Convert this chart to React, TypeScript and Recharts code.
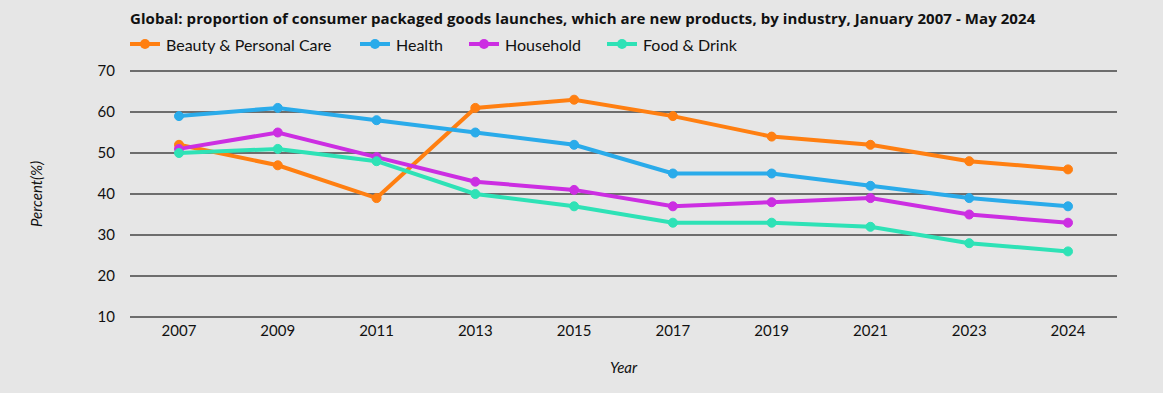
import React from "react";
import { LineChart, Line, XAxis, YAxis, CartesianGrid } from "recharts";

const years = ["2007", "2009", "2011", "2013", "2015", "2017", "2019", "2021", "2023", "2024"];
const beauty = [52, 47, 39, 61, 63, 59, 54, 52, 48, 46];
const health = [59, 61, 58, 55, 52, 45, 45, 42, 39, 37];
const household = [51, 55, 49, 43, 41, 37, 38, 39, 35, 33];
const food = [50, 51, 48, 40, 37, 33, 33, 32, 28, 26];
const yTicks = [10, 20, 30, 40, 50, 60, 70];

const seriesDefs = [
  { key: "beauty", name: "Beauty & Personal Care", color: "#ff7f11", values: beauty },
  { key: "health", name: "Health", color: "#2aabea", values: health },
  { key: "household", name: "Household", color: "#cc2ee2", values: household },
  { key: "food", name: "Food & Drink", color: "#2ee2b6", values: food },
];

const data = years.map((y, i) => {
  const row: any = { year: y };
  seriesDefs.forEach((s) => (row[s.key] = s.values[i]));
  return row;
});

const FONT = "Lato, 'Noto Sans', sans-serif";
const HFONT = "'Open Sans', Lato, sans-serif";
const legendX = [130, 360, 469, 607];

export default function App() {
  return (
    <div
      style={{
        position: "absolute",
        left: 0,
        top: 0,
        width: 1163,
        height: 393,
        background: "#e6e6e6",
        fontFamily: FONT,
        color: "#111",
      }}
    >
      <div
        style={{
          position: "absolute",
          left: 130,
          top: 8,
          fontSize: 15,
          letterSpacing: 0.07,
          fontWeight: 700,
          fontFamily: HFONT,
          whiteSpace: "nowrap",
        }}
      >
        Global: proportion of consumer packaged goods launches, which are new products, by industry, January 2007 - May 2024
      </div>
      {seriesDefs.map((s, i) => (
        <div
          key={s.key}
          style={{
            position: "absolute",
            left: legendX[i],
            top: 34,
            height: 20,
            display: "flex",
            alignItems: "center",
            fontSize: 16,
            whiteSpace: "nowrap",
          }}
        >
          <svg width={30} height={12} style={{ marginRight: 6 }}>
            <line x1={0} y1={6} x2={30} y2={6} stroke={s.color} strokeWidth={4} />
            <circle cx={15} cy={6} r={5} fill={s.color} />
          </svg>
          {s.name}
        </div>
      ))}
      <LineChart
        width={1163}
        height={393}
        data={data}
        margin={{ top: 71, right: 46, left: 70, bottom: 46 }}
        style={{ position: "absolute", left: 0, top: 0 }}
      >
        <CartesianGrid vertical={false} stroke="#444" strokeWidth={1.3} />
        <XAxis
          dataKey="year"
          axisLine={false}
          tickLine={false}
          height={30}
          tickMargin={2}
          padding={{ left: 49, right: 49 }}
          tick={{ fill: "#111", fontSize: 15, fontFamily: FONT }}
          label={{
            value: "Year",
            position: "insideBottom",
            offset: -26,
            fill: "#111",
            fontSize: 15,
            fontStyle: "italic",
            fontFamily: FONT,
          }}
        />
        <YAxis
          domain={[10, 70]}
          ticks={yTicks}
          axisLine={false}
          tickLine={false}
          width={60}
          tickMargin={9}
          interval={0}
          tick={{ fill: "#111", fontSize: 15, fontFamily: FONT }}
          label={{
            value: "Percent(%)",
            angle: -90,
            position: "insideLeft",
            offset: -33,
            fill: "#111",
            fontSize: 15,
            fontStyle: "italic",
            fontFamily: FONT,
            style: { textAnchor: "middle" },
          }}
        />
        {seriesDefs.map((s) => (
          <Line
            key={s.key}
            dataKey={s.key}
            name={s.name}
            stroke={s.color}
            strokeWidth={4}
            dot={{ r: 4.5, fill: s.color, stroke: s.color, strokeWidth: 1 }}
            activeDot={false}
            isAnimationActive={false}
          />
        ))}
      </LineChart>
    </div>
  );
}
